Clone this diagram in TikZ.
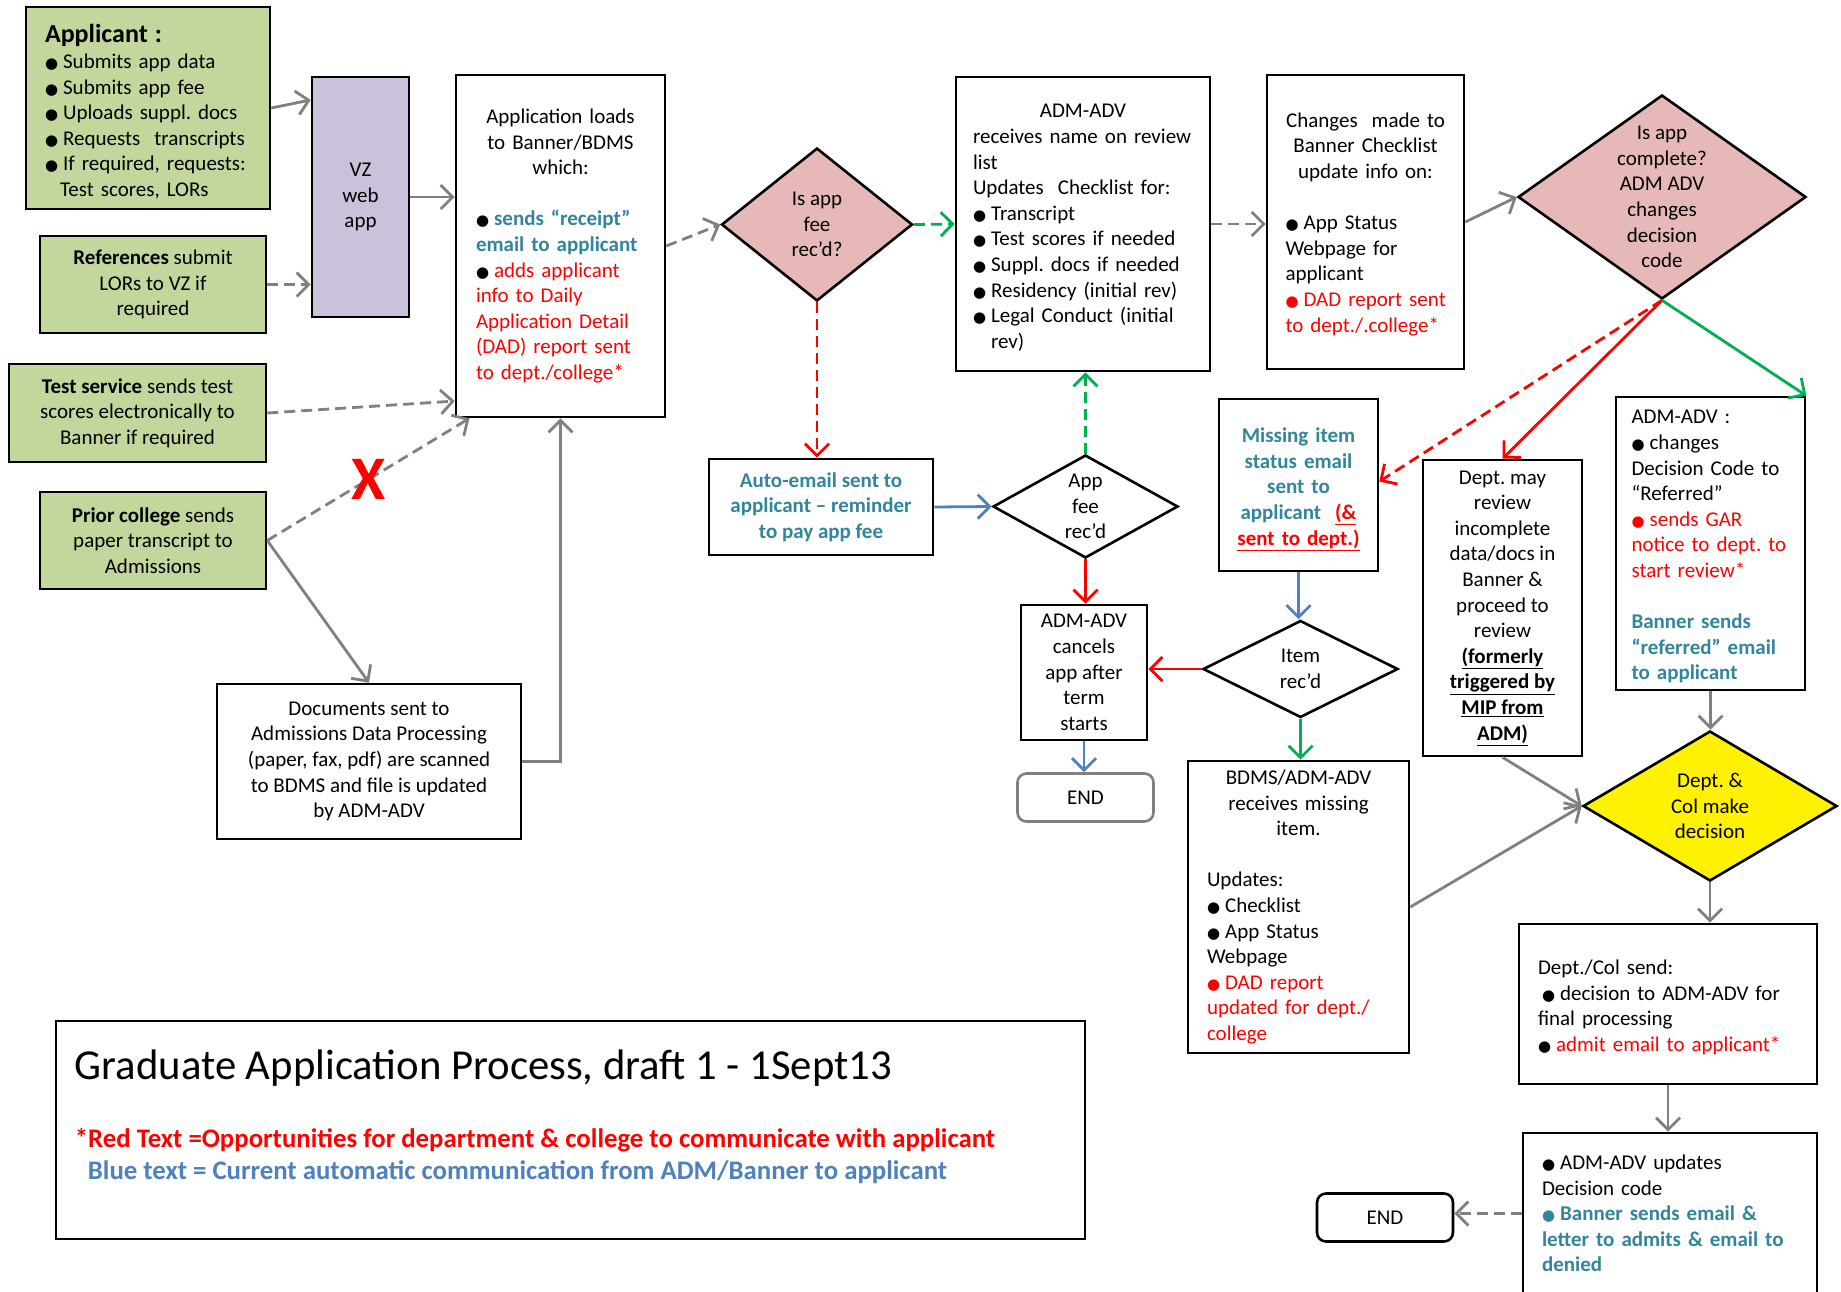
\documentclass[tikz,border=0pt]{standalone}
\usepackage{fontspec}
\setmainfont{Carlito}
\newfontfamily\dotfont{DejaVu Sans}
\usetikzlibrary{arrows.meta, shapes.geometric, calc}
\definecolor{appgreen}{HTML}{C3D69B}
\definecolor{vzlilac}{HTML}{CCC1DA}
\definecolor{askpink}{HTML}{E6B9B8}
\definecolor{mailteal}{HTML}{31859C}
\definecolor{linkblue}{HTML}{4F81BD}
\definecolor{flowgray}{HTML}{808080}
\definecolor{okgreen}{HTML}{00B050}
\newcommand{\bul}{{\dotfont\fontsize{15}{15}\selectfont ●}\hspace{5pt}}
\newcommand{\lift}[1]{\rule{0pt}{#1pt}}
\frenchspacing

\begin{document}
\begin{tikzpicture}[x=1pt, y=-1pt, font=\fontsize{21}{25.6}\selectfont,
  box/.style={draw, line width=2.6pt, inner sep=0pt, align=center},
  dia/.style={draw, diamond, line width=2.6pt, inner sep=0pt},
  arr/.style={line width=2.8pt, -{Straight Barb[length=12pt,width=24pt]}},
  dsh/.style={dash pattern=on 11pt off 6pt},
  endbox/.style={draw, rounded corners=9pt, line width=2.6pt, inner sep=0pt, minimum width=136, minimum height=48}]
\fill[white] (0,0) rectangle (1841,1291);
\useasboundingbox (0,0) rectangle (1841,1291);

\node[box, fill=appgreen, minimum width=244, minimum height=202, text width=206, align=left] (appl) at (148,108)
  {\lift{26}{\fontsize{26}{30}\selectfont\bfseries Applicant :}\\
   \bul Submits app data\\
   \bul Submits app fee\\
   \bul Uploads suppl. docs\\
   \bul Requests\ \ transcripts\\
   \bul If required, requests:\\
   \hspace*{15pt}Test scores, LORs};
\node[box, fill=vzlilac, minimum width=97, minimum height=240] (vz) at (360.5,197) {VZ\\web\\app};
\node[box, fill=appgreen, minimum width=226, minimum height=97] (refs) at (153,284.5) {\textbf{References} submit\\LORs to VZ if\\required};
\node[box, fill=appgreen, minimum width=257, minimum height=98] (test) at (137.5,413) {\textbf{Test service} sends test\\scores electronically to\\Banner if required};
\node[box, fill=appgreen, minimum width=226, minimum height=97] (prior) at (153,540.5) {\textbf{Prior college} sends\\paper transcript to\\Admissions};
\node[box, minimum width=304, minimum height=155] (docs) at (369,761.5) {Documents sent to\\Admissions Data Processing\\(paper, fax, pdf) are scanned\\to BDMS and file is updated\\by ADM-ADV};
\node[box, minimum width=209, minimum height=342, text width=169, align=left] (load) at (560.5,246)
  {{\centering Application loads\\to Banner/BDMS\\which:\par}
   \vspace{25.6pt}
   \bul{\color{mailteal}\bfseries sends “receipt”}\\
   {\color{mailteal}\bfseries email to applicant}\\
   \bul{\color{red}adds applicant}\\
   {\color{red}info to Daily\\Application Detail\\(DAD) report sent\\to dept./college*}};

\node[dia, fill=askpink, minimum width=191, minimum height=153] (fee) at (817,224.5) {};
\node[align=center] (feetxt) at (fee) {Is app\\fee\\rec’d?};
\node[box, minimum width=254, minimum height=294, text width=220, align=left] (review) at (1083,224)
  {{\centering\lift{21}ADM-ADV\par}
   receives name on review\\
   list\\
   Updates\ \ Checklist for:\\
   \bul Transcript\\
   \bul Test scores if needed\\
   \bul Suppl. docs if needed\\
   \bul Residency (initial rev)\\
   \bul Legal Conduct (initial\\
   \hspace*{18pt}rev)};
\node[box, minimum width=197, minimum height=294, text width=160, align=left] (changes) at (1365.5,222)
  {{\centering\lift{19}Changes\ \ made to\\Banner Checklist\\update info on:\par}
   \vspace{25.6pt}
   \bul App Status\\
   Webpage for\\
   applicant\\
   {\color{red}\mbox{\bul DAD report sent}\\\mbox{to dept./.college*}}};
\node[dia, fill=askpink, minimum width=288, minimum height=204] (comp) at (1662,197) {};
\node[align=center] (comptxt) at (comp) {Is app\\complete?\\ADM ADV\\changes\\decision\\code};

\node[box, minimum width=224, minimum height=96, text=mailteal, font=\fontsize{21}{25.6}\selectfont\bfseries] (auto) at (821,507) {Auto-email sent to\\applicant – reminder\\to pay app fee};
\node[dia, fill=white, minimum width=185, minimum height=103] (feerec) at (1085.5,506.5) {};
\node[align=center] (feerectxt) at (feerec) {App\\fee\\rec’d};
\node[box, minimum width=126, minimum height=135] (cancel) at (1084,672.5) {ADM-ADV\\cancels\\app after\\term\\starts};
\node[endbox, draw=flowgray] (end1) at (1085.5,797.5) {END};
\node[box, minimum width=159, minimum height=172, text width=159, font=\fontsize{21}{25.6}\selectfont\bfseries] (missing) at (1298.5,485)
  {\lift{23}{\color{mailteal}Missing item\\status email\\sent to\\applicant}\ \ {\color{red}\underline{(\&}}\\{\color{red}\underline{sent to dept.)}}};
\node[dia, fill=white, minimum width=195, minimum height=97] (item) at (1300.5,669) {};
\node[align=center] (itemtxt) at (item) {Item\\rec’d};
\node[box, minimum width=221, minimum height=292, text width=183, align=left] (bdms) at (1298.5,907)
  {{\centering BDMS/ADM-ADV\\receives missing\\item.\par}
   \vspace{25.6pt}
   Updates:\\
   \bul Checklist\\
   \bul App Status\\
   Webpage\\
   {\color{red}\bul DAD report\\updated for dept./\\college}};

\node[box, minimum width=159, minimum height=296] (deptrev) at (1502.5,608)
  {Dept. may\\review\\incomplete\\data/docs in\\Banner \&\\proceed to\\review\\
   \textbf{\underline{(formerly}}\\\textbf{\underline{triggered by}}\\\textbf{\underline{MIP from}}\\\textbf{\underline{ADM)}}};
\node[box, minimum width=189, minimum height=293, text width=158, align=left] (refer) at (1710.5,543.5)
  {\lift{20}ADM-ADV :\\
   \bul changes\\
   Decision Code to\\
   “Referred”\\
   {\color{red}\bul sends GAR\\\mbox{notice to dept. to}\\start review*}\\[25.6pt]
   {\color{mailteal}\bfseries Banner sends\\\mbox{“referred” email}\\to applicant}};
\node[dia, fill=yellow, minimum width=254, minimum height=150] (dec) at (1710,806) {};
\node[align=center] (dectxt) at (dec) {Dept. \&\\Col make\\decision};
\node[box, minimum width=298, minimum height=160, text width=260, align=left] (send) at (1668,1004)
  {\lift{21}Dept./Col send:\\
   \hspace*{4pt}\bul decision to ADM-ADV for\\
   final processing\\
   \bul{\color{red}admit email to applicant*}};
\node[box, minimum width=294, minimum height=161, text width=256, align=left] (final) at (1670,1213.5)
  {\bul ADM-ADV updates\\
   Decision code\\
   {\color{mailteal}\bfseries\bul Banner sends email \&\\\mbox{letter to admits \& email to}\\denied}};
\node[endbox] (end2) at (1385,1217.5) {END};

\node[box, minimum width=1029, minimum height=218] (legend) at (570.5,1130) {};
\node[anchor=base west, inner sep=0pt, font=\fontsize{42.7}{50}\selectfont] (ttl) at ($(legend.north west)+(20,60)$) {Graduate Application Process, draft 1 - 1Sept13};
\node[anchor=base west, inner sep=0pt, text=red, font=\fontsize{26.8}{32}\selectfont\bfseries] (redkey) at ($(legend.north west)+(20,128)$) {*Red Text =Opportunities for department \& college to communicate with applicant};
\node[anchor=base west, inner sep=0pt, text=linkblue, font=\fontsize{26.8}{32}\selectfont\bfseries] (bluekey) at ($(legend.north west)+(33,160)$) {Blue text = Current automatic communication from ADM/Banner to applicant};

\draw[arr, flowgray] (appl.east) -- ($(vz.north west)!.1!(vz.south west)$);
\draw[arr, flowgray, dsh] (refs.east) -- (refs.east -| vz.west);
\draw[arr, flowgray] (vz.east) -- (vz.east -| load.west);
\draw[arr, flowgray, dsh] (test.east) -- ($(load.north west)!.95!(load.south west)$);
\draw[arr, flowgray, dsh] (prior.east) -- node[text=red, inner sep=0pt, font=\fontsize{62}{62}\selectfont\bfseries] (nox) {X} ($(load.south west)!.07!(load.south east)$);
\draw[arr, flowgray] (prior.east) -- (docs.north);
\draw[arr, flowgray] (docs.east) -| (load.south);
\draw[arr, flowgray, dsh] (load.east) -- (fee.west);
\draw[arr, okgreen, dsh] (fee.east) -- (review.west);
\draw[arr, red, dsh] (fee.south) -- (fee.south |- auto.north);
\draw[arr, linkblue] (auto.east) -- (feerec.west);
\draw[arr, okgreen, dsh] (feerec.north) -- (feerec.north |- review.south);
\draw[arr, red] (feerec.south) -- (feerec.south |- cancel.north);
\draw[arr, linkblue] (cancel.south) -- (cancel.south |- end1.north);
\draw[arr, red] (item.west) -- (item.west -| cancel.east);
\draw[arr, linkblue] (missing.south) -- (missing.south |- item.north);
\draw[arr, okgreen] (item.south) -- (item.south |- bdms.north);
\draw[arr, flowgray, dsh] (review.east) -- (review.east -| changes.west);
\draw[arr, flowgray] (changes.east) -- (comp.west);
\draw[arr, red, dsh] (comp.south) -- ($(missing.north east)!.48!(missing.south east)$);
\draw[arr, red] (comp.south) -- (deptrev.north);
\draw[arr, okgreen] (comp.south) -- (refer.north east);
\draw[arr, flowgray] (refer.south) -- (refer.south |- dec.north);
\draw[arr, flowgray] (deptrev.south) -- (dec.west);
\draw[arr, flowgray] (bdms.east) -- (dec.west);
\draw[arr, flowgray] (dec.south) -- (dec.south |- send.north);
\draw[arr, flowgray] (send.south) -- (send.south |- final.north);
\draw[arr, flowgray, dsh] (final.west) -- (final.west -| end2.east);
\end{tikzpicture}
\end{document}
